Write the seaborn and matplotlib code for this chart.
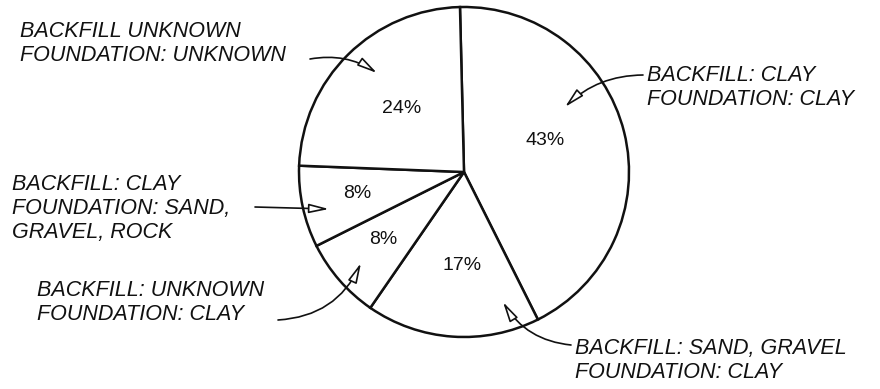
import matplotlib
matplotlib.use("Agg")
import matplotlib.pyplot as plt
import seaborn as sns

# ---- data ----
categories = [
    "BACKFILL: CLAY\nFOUNDATION: CLAY",
    "BACKFILL: SAND, GRAVEL\nFOUNDATION: CLAY",
    "BACKFILL: UNKNOWN\nFOUNDATION: CLAY",
    "BACKFILL: CLAY\nFOUNDATION: SAND,\nGRAVEL, ROCK",
    "BACKFILL UNKNOWN\nFOUNDATION: UNKNOWN",
]
shares = [43, 17, 8, 8, 24]

# ---- layout (pixel coords, y measured from top) ----
W, H = 880, 389
center_px = (464, 172)
radius_px = 165
pct_pos = [(545, 140), (462, 265), (383, 239), (357, 193), (402, 108)]
label_pos = [(647, 69), (575, 342), (37, 284), (12, 178), (20, 25)]
arrow_start = [(643, 75), (571, 345), (278, 320), (255, 207), (310, 59)]
arrow_tip = [(565, 107), (503, 302), (361, 263), (329, 209), (377, 73)]
arrow_rad = [0.2, -0.25, 0.3, 0.0, -0.2]

sns.set_theme(style="white")
plt.rcParams["font.family"] = ["Liberation Sans", "DejaVu Sans"]

fig = plt.figure(figsize=(W / 100, H / 100), dpi=100)
ax = fig.add_axes([0, 0, 1, 1])


def Y(y):
    return H - y


wedges, _, autotexts = ax.pie(
    shares,
    center=(center_px[0], Y(center_px[1])),
    radius=radius_px,
    startangle=91.4,
    counterclock=False,
    colors=["white"] * len(shares),
    wedgeprops=dict(edgecolor="#111111", linewidth=1.8),
    autopct="%.0f%%",
    pctdistance=0.55,
    textprops=dict(fontsize=14, color="#111111"),
)
for t, (x, y) in zip(autotexts, pct_pos):
    t.set_position((x, Y(y)))
    t.set_ha("center")
    t.set_va("center")

for lab, (x, y) in zip(categories, label_pos):
    ax.text(x, Y(y) + 4, lab, ha="left", va="top", fontsize=15.5,
            style="italic", color="#111111", linespacing=1.2)

for (sx, sy), (tx, ty), rad in zip(arrow_start, arrow_tip, arrow_rad):
    ax.annotate(
        "", xy=(tx, Y(ty)), xytext=(sx, Y(sy)),
        arrowprops=dict(
            arrowstyle="-|>,head_length=1.2,head_width=0.28",
            connectionstyle=f"arc3,rad={rad}",
            fc="white", ec="#111111", lw=1.2,
            shrinkA=0, shrinkB=0, mutation_scale=10,
        ),
    )

ax.set_xlim(0, W)
ax.set_ylim(0, H)
ax.set_aspect("equal")
ax.axis("off")

fig.savefig("out.png", dpi=100, facecolor="white")
